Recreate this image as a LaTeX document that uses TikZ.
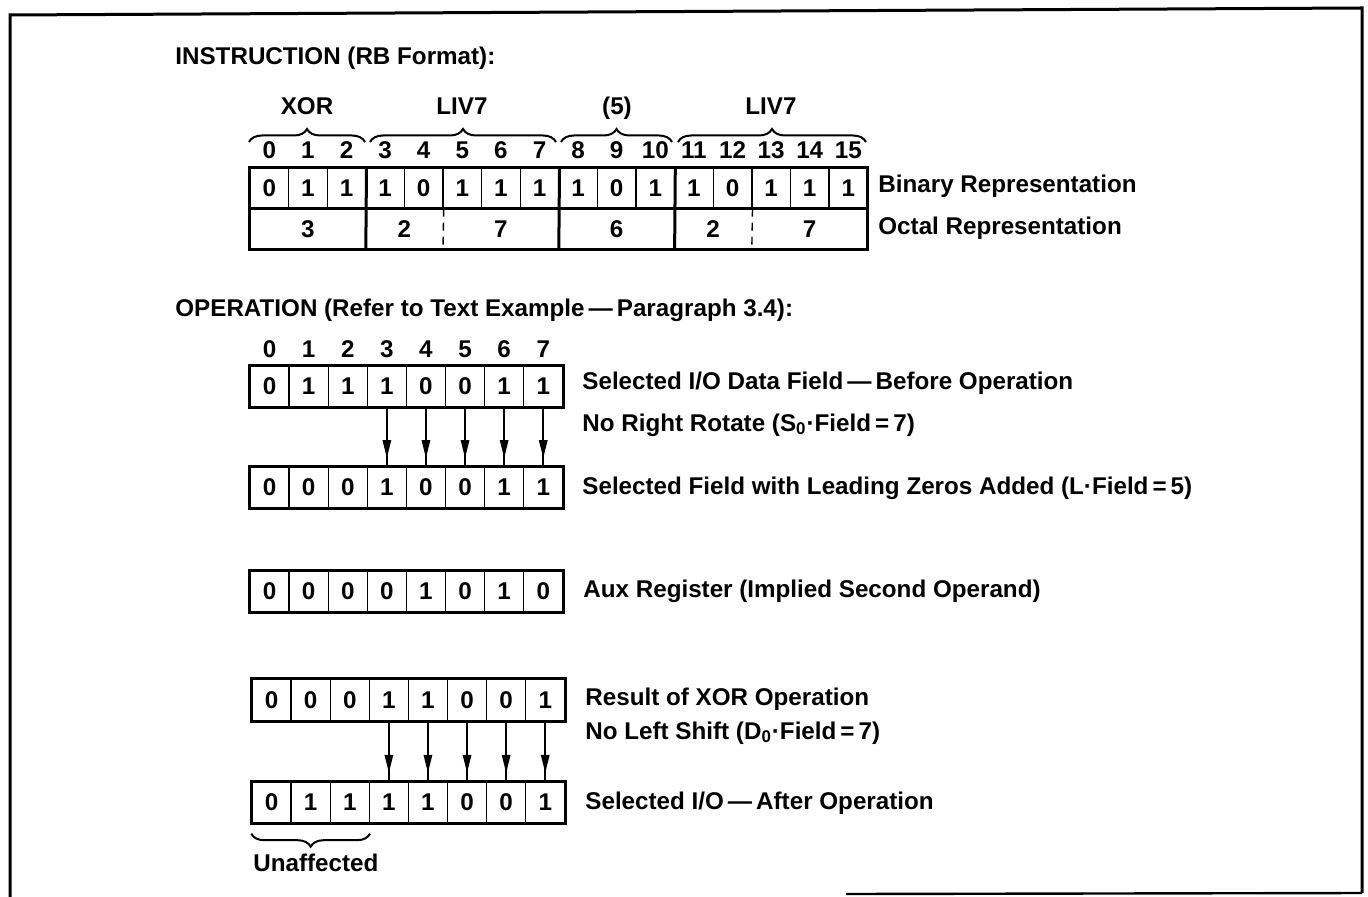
\documentclass[tikz,border=0pt]{standalone}
\usepackage{fontspec}
\setmainfont{Liberation Sans}
\usetikzlibrary{decorations.pathreplacing,decorations.markings,arrows.meta,calc}
\begin{document}
\begin{tikzpicture}[x=0.5pt,y=-0.5pt,
  every node/.style={font=\fontsize{12.1}{14}\selectfont\bfseries, inner sep=0pt, text height=8.7pt, text depth=0.3pt},
  cell/.style={draw, line width=0.7pt, minimum height=20pt, anchor=center},
  icell/.style={cell, minimum width=19.3pt},
  ocell/.style={cell, minimum width=19.55pt, minimum height=20.5pt},
  txt/.style={anchor=west, text height=, text depth=},
  heavy/.style={line width=1.5pt},
  thin/.style={line width=0.7pt},
  bracestyle/.style={decorate, decoration={brace, amplitude=6.5pt}, line width=1pt},
  arr/.style={line width=0.8pt, postaction={decorate},
    decoration={markings, mark=at position 0.86 with {\arrow{Triangle[length=9pt,width=4.2pt]}}}}
]
\useasboundingbox (0,0) rectangle (1368,897);
% frame
\draw[line width=1.5pt] (10,897) -- (10,15) -- (1362,8) -- (1362,893);
\draw[line width=1.2pt] (846,894) -- (1362,893);

% titles
\node[txt] (t1) at (175,58) {INSTRUCTION (RB Format):};
\node[txt] (t2) at (175,310) {OPERATION (Refer to Text Example\,—\,Paragraph 3.4):};

% instruction bit numbers and cells
\foreach \v [count=\i from 0] in {0,1,1,1,0,1,1,1,1,0,1,1,0,1,1,1} {
  \node[icell] (b\i) at ({250+38.6*\i+19.3},188) {\v};
  \node (n\i) at ({250+38.6*\i+19.3},150) {\i};
}
% octal row
\node (o1) at (307.9,229) {3};
\node (o2) at (404.4,229) {2};
\node (o3) at (500.9,229) {7};
\node (o4) at (616.7,229) {6};
\node (o5) at (713.2,229) {2};
\node (o6) at (809.7,229) {7};
\draw[heavy] (b0.north west) rectangle (867.6,250);
\draw[heavy] (b0.south west) -- (b15.south east);
\draw[heavy] (b2.north east) -- (365.8,250);
\draw[heavy] (b7.north east) -- (558.8,250);
\draw[heavy] (b10.north east) -- (674.6,250);
\draw[thin, dash pattern=on 4pt off 3pt] (b4.south east) -- (443,250);
\draw[thin, dash pattern=on 4pt off 3pt] (b12.south east) -- (751.8,250);

% braces and group labels
\draw[bracestyle] (249,142) -- (365,142);
\draw[bracestyle] (370,142) -- (556,142);
\draw[bracestyle] (561,142) -- (672,142);
\draw[bracestyle] (678,142) -- (866,142);
\node (g1) at (307,106) {XOR};
\node (g2) at (462,106) {LIV7};
\node (g3) at (617,106) {(5)};
\node (g4) at (771,106) {LIV7};

\node[txt] (lb) at (878,186) {Binary Representation};
\node[txt] (lo) at (878,228) {Octal Representation};

% operation rows
\foreach \i in {0,...,7}
  \node (m\i) at ({250+39.1*\i+19.55},349) {\i};
\foreach \v [count=\i from 0] in {0,1,1,1,0,0,1,1}
  \node[ocell] (a\i) at ({250+39.1*\i+19.55},386.5) {\v};
\foreach \v [count=\i from 0] in {0,0,0,1,0,0,1,1}
  \node[ocell] (r\i) at ({250+39.1*\i+19.55},487.5) {\v};
\foreach \v [count=\i from 0] in {0,0,0,0,1,0,1,0}
  \node[ocell] (c\i) at ({250+39.1*\i+19.55},591.5) {\v};
\foreach \v [count=\i from 0] in {0,0,0,1,1,0,0,1}
  \node[ocell] (d\i) at ({252+39.1*\i+19.55},700) {\v};
\foreach \v [count=\i from 0] in {0,1,1,1,1,0,0,1}
  \node[ocell] (e\i) at ({252+39.1*\i+19.55},802.5) {\v};
\foreach \r in {a,r,c,d,e}
  \draw[heavy] (\r0.north west) rectangle (\r7.south east);

\foreach \i in {3,...,7} {
  \draw[arr] (a\i.south) -- (r\i.north);
  \draw[arr] (d\i.south) -- (e\i.north);
}

\node[txt] (la) at (582,383) {Selected I/O Data Field\,—\,Before Operation};
\node[txt] (la2) at (582,425) {No Right Rotate (S\textsubscript{0}·Field\,=\,7)};
\node[txt] (lr) at (582,488) {Selected Field with Leading Zeros Added (L·Field\,=\,5)};
\node[txt] (lc) at (583,591) {Aux Register (Implied Second Operand)};
\node[txt] (ld) at (585,699) {Result of XOR Operation};
\node[txt] (ld2) at (585,733) {No Left Shift (D\textsubscript{0}·Field\,=\,7)};
\node[txt] (le) at (585,803) {Selected I/O\,—\,After Operation};

\draw[bracestyle] ($(e2.south east)+(0,10)$) -- ($(e0.south west)+(0,10)$);
\node[txt] (un) at (253,863) {Unaffected};
\end{tikzpicture}
\end{document}
